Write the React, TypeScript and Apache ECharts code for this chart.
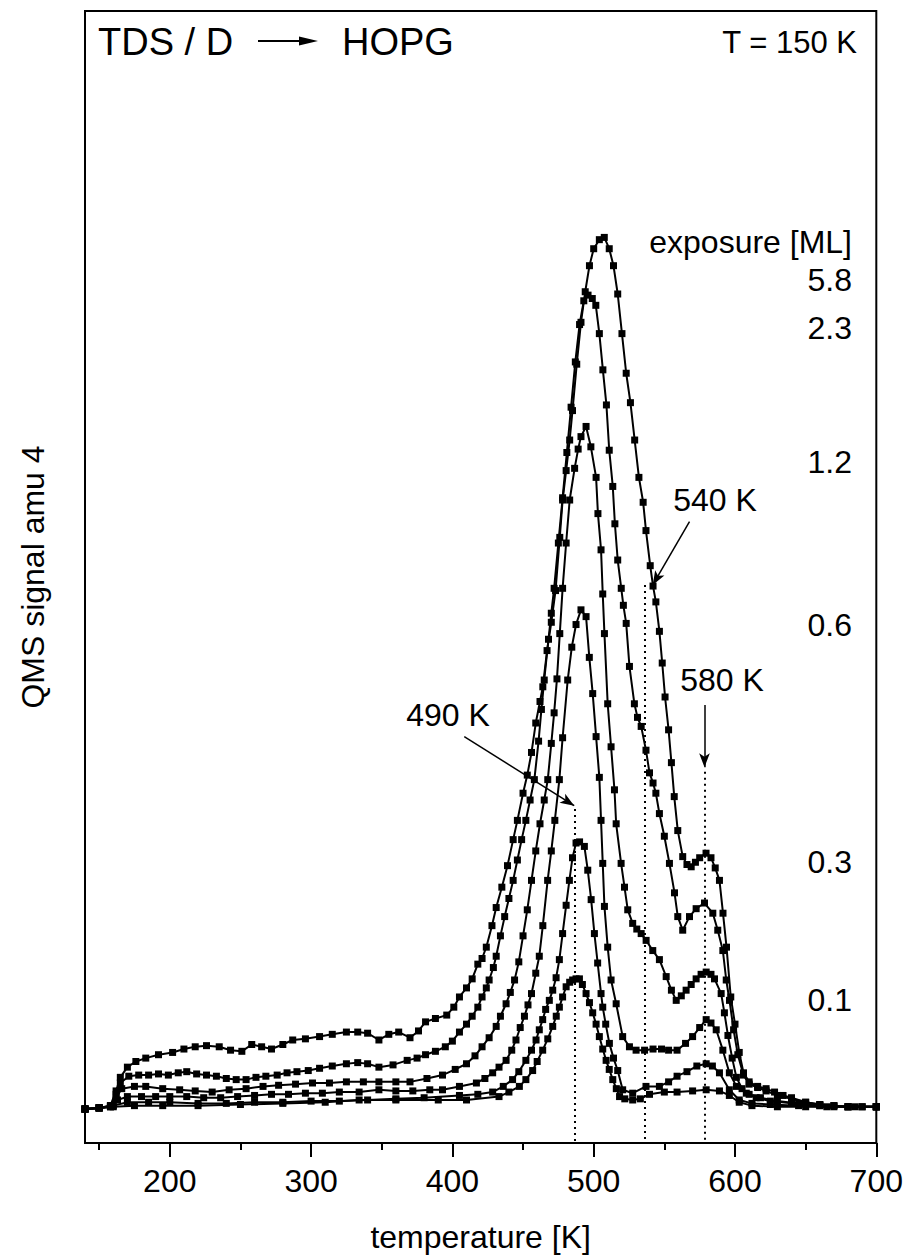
import React, { useEffect, useRef } from "react";
import * as echarts from "echarts";

// ---------- data (temperature K, QMS signal in arbitrary units) ----------
const exposures = ["5.8", "2.3", "1.2", "0.6", "0.3", "0.1"];

const curve58: [number, number][] = [
  [140, 3.0], [150, 3.1], [158, 3.3], [162, 4.6], [165, 5.8], [170, 6.7], [176, 7.2], [183, 7.5], [192, 7.8], [202, 8.0],
  [210, 8.3], [218, 8.5], [226, 8.6], [235, 8.5], [243, 8.2], [251, 8.1], [258, 8.7], [265, 8.5], [272, 8.3], [280, 8.7],
  [287, 9.1], [296, 9.2], [306, 9.4], [315, 9.6], [325, 9.8], [333, 9.8], [340, 9.7], [348, 9.1], [355, 9.6], [362, 9.8],
  [370, 9.3], [376, 9.9], [381, 10.7], [388, 11.0], [396, 11.3], [401, 12.0], [405, 12.9], [410, 13.7], [414, 14.5], [418, 15.8],
  [421, 16.3], [424, 17.3], [428, 19.2], [431, 20.8], [435, 22.6], [439, 24.5], [443, 26.8], [446, 28.5], [450, 30.9], [453, 32.5],
  [456, 34.5], [459, 37.1], [462, 39.0], [464, 40.3], [467, 43.5], [470, 46.0], [473, 48.8], [476, 53.5], [478, 56.8], [480.5, 59.4],
  [483, 62.1], [485, 64.7], [488, 68.8], [491, 72.5], [494, 75.2], [497, 77.5], [500, 79.0], [504, 79.8], [507.5, 80.0], [511, 79.0],
  [514, 77.5], [517, 75.0], [520, 71.5], [523, 68.0], [526, 65.4], [529, 62.1], [532, 58.8], [535, 56.6], [537, 54.1], [540, 51.0],
  [542, 49.2], [544, 47.8], [546.5, 45.2], [548.5, 42.4], [550.5, 39.4], [553, 36.5], [555, 33.6], [557, 30.6], [559.5, 27.6], [563, 25.3],
  [566, 24.6], [569, 24.4], [572, 24.8], [575, 25.2], [579.5, 25.6], [583, 25.2], [586, 24.3], [589, 23.2], [591.5, 20.3], [594, 17.3],
  [597, 12.9], [600, 10.5], [603, 8.0], [606, 6.2], [610, 5.4], [616, 5.0], [622, 4.8], [628, 4.5], [634, 4.2], [640, 4.0],
  [650, 3.6], [660, 3.4], [670, 3.3], [680, 3.2], [690, 3.2], [700, 3.2],
];

const curve23: [number, number][] = [
  [140, 3.0], [150, 3.1], [158, 3.3], [162, 4.3], [165, 5.3], [171, 5.9], [178, 6.0], [185, 6.0], [192, 6.1], [199, 6.0],
  [206, 6.2], [212, 6.3], [219, 6.1], [226, 6.0], [233, 5.9], [240, 5.7], [247, 5.6], [254, 5.6], [261, 5.8], [268, 5.9],
  [276, 6.0], [283, 6.2], [290, 6.3], [298, 6.4], [306, 6.6], [315, 6.8], [325, 7.0], [333, 7.1], [340, 7.0], [348, 6.7],
  [358, 6.9], [368, 7.3], [375, 7.5], [381, 7.8], [388, 8.1], [395, 8.5], [400, 9.0], [405, 9.8], [410, 10.5], [414, 11.2],
  [418, 12.0], [421, 12.9], [424, 13.7], [426, 14.4], [429, 15.5], [431, 16.5], [434, 18.3], [437, 20.0], [440, 21.6], [443, 23.2],
  [446, 25.0], [449, 26.8], [452, 28.5], [455, 30.3], [458, 32.1], [461, 35.5], [463, 38.3], [465, 40.9], [468, 44.5], [470, 46.8],
  [472, 49.0], [475, 53.0], [478, 57.0], [481, 61.0], [484, 65.0], [487, 69.0], [490, 72.3], [493, 74.4], [496, 74.9], [499, 74.6],
  [501.5, 74.0], [504, 71.5], [506.5, 68.3], [509, 65.2], [511, 61.2], [513.5, 58.0], [515, 54.7], [517, 51.5], [519.5, 49.0], [521, 47.5],
  [523, 45.9], [525.3, 42.1], [528.8, 38.8], [531, 37.6], [533.6, 36.8], [537, 34.7], [539.5, 32.7], [542, 31.8], [544, 30.9], [546.5, 29.1],
  [550, 27.1], [553.6, 24.7], [557.2, 22.1], [559.5, 20.0], [563, 18.8], [567.8, 20.0], [572.5, 20.7], [578.4, 21.2], [584.3, 20.3], [587.8, 18.8],
  [591.4, 17.0], [593.8, 14.4], [596.1, 12.6], [599, 10.0], [602, 7.8], [606, 6.0], [610, 5.2], [616, 4.9], [622, 4.6], [630, 4.2],
  [640, 3.9], [650, 3.6], [660, 3.4], [670, 3.3], [680, 3.2], [690, 3.2], [700, 3.2],
];

const curve12: [number, number][] = [
  [140, 3.0], [150, 3.1], [158, 3.2], [162, 4.0], [166, 4.8], [175, 5.0], [183, 5.0], [195, 4.8], [207, 4.7], [218, 4.6],
  [230, 4.5], [242, 4.7], [254, 4.8], [266, 5.0], [277, 5.1], [289, 5.2], [301, 5.3], [313, 5.3], [325, 5.4], [337, 5.4],
  [348, 5.4], [360, 5.4], [370, 5.4], [382, 5.7], [393, 6.0], [402, 6.5], [410, 7.0], [416, 7.7], [421, 8.5], [426, 9.3],
  [431, 10.3], [434, 11.2], [438, 12.3], [441, 13.3], [444, 14.4], [447, 16.0], [450, 18.3], [453, 20.6], [456, 23.2], [459, 25.8],
  [462, 28.2], [465, 30.3], [467.5, 32.1], [470, 35.3], [472, 38.0], [474, 41.0], [476, 45.0], [478, 49.0], [480.5, 53.0], [483, 56.8],
  [486.5, 59.6], [489, 61.3], [491, 62.4], [494.6, 63.3], [498, 61.5], [501.7, 58.8], [503, 55.6], [505.2, 52.4], [506.4, 48.5], [507.6, 45.0],
  [509.9, 38.8], [512.3, 35.0], [514.7, 31.2], [515.9, 28.2], [519.4, 24.7], [521.8, 22.6], [524.1, 20.6], [527.6, 19.4], [530.5, 18.9], [533.6, 18.5],
  [537.1, 17.9], [541.8, 17.0], [546.5, 16.2], [551.3, 14.7], [555, 13.5], [558.4, 12.6], [562, 13.0], [565.4, 13.5], [569, 14.0], [572.5, 14.5],
  [576, 14.9], [579.6, 15.1], [583, 14.9], [585.5, 14.5], [590.2, 13.2], [592.5, 11.5], [595, 9.5], [598, 7.5], [601, 5.8], [605, 4.8],
  [610, 4.3], [618, 4.0], [630, 3.7], [645, 3.5], [660, 3.3], [680, 3.2], [700, 3.2],
];

const curve06: [number, number][] = [
  [140, 3.0], [150, 3.1], [158, 3.2], [163, 3.8], [170, 4.1], [180, 4.1], [190, 4.1], [200, 4.1], [212, 4.1], [224, 4.0],
  [236, 4.0], [248, 4.1], [260, 4.2], [272, 4.3], [284, 4.3], [296, 4.4], [308, 4.4], [320, 4.5], [334, 4.5], [348, 4.7],
  [360, 4.6], [372, 4.6], [384, 4.7], [393, 4.7], [405, 5.0], [417, 5.3], [423, 5.7], [428.5, 6.2], [433, 6.7], [438, 7.3],
  [442, 8.2], [445, 9.1], [448, 10.2], [451, 11.2], [453.5, 12.2], [456, 13.2], [459, 15.0], [461.5, 16.5], [464, 19.2], [467.4, 23.2],
  [470, 25.8], [472.5, 28.5], [475.7, 32.1], [478, 35.8], [481.6, 40.9], [484.5, 43.8], [487.5, 45.8], [491, 47.1], [494.6, 46.5], [496.9, 42.9],
  [499.3, 39.7], [501.7, 35.9], [504, 32.3], [505.2, 28.5], [506.4, 24.7], [507.6, 20.9], [509.9, 17.3], [512.3, 14.4], [515.9, 12.3], [520.5, 9.4],
  [525.3, 8.5], [530, 8.2], [536, 8.2], [542, 8.3], [548, 8.3], [553, 8.2], [559, 8.2], [565, 8.8], [570, 9.4], [575, 10.2],
  [579.6, 10.9], [583, 10.6], [586.7, 10.0], [591.4, 8.2], [596, 6.2], [601, 5.0], [608, 4.4], [615, 4.0], [625, 3.7], [640, 3.5],
  [660, 3.3], [680, 3.2], [700, 3.2],
];

const curve03: [number, number][] = [
  [140, 3.0], [150, 3.1], [160, 3.3], [170, 3.6], [185, 3.6], [200, 3.6], [220, 3.5], [240, 3.5], [260, 3.6], [280, 3.6],
  [300, 3.7], [320, 3.7], [340, 3.8], [360, 3.9], [380, 4.0], [405, 4.2], [418, 4.3], [428.5, 4.5], [436, 5.0], [442.6, 5.6],
  [447, 6.3], [452, 7.3], [456, 8.2], [459.2, 9.1], [461.5, 10.0], [463.9, 10.9], [466, 11.8], [468.6, 12.6], [471, 13.5], [473.4, 14.6],
  [475.7, 16.2], [478, 18.5], [480.5, 21.0], [482.8, 23.2], [485, 25.2], [487.5, 26.5], [490, 26.6], [493.4, 26.2], [495.8, 24.1], [498.2, 21.5],
  [500.5, 18.5], [502.8, 15.9], [505.2, 13.2], [506.4, 12.0], [508.5, 10.5], [511.1, 8.8], [514, 7.5], [517, 6.4], [520.5, 4.7], [527.6, 4.4],
  [537, 5.0], [546.5, 5.0], [553, 5.4], [559, 5.9], [566, 6.3], [573, 6.8], [579.6, 7.0], [584, 6.8], [589, 6.2], [596, 4.7],
  [603, 3.8], [612, 3.5], [625, 3.4], [645, 3.3], [665, 3.2], [685, 3.2], [700, 3.2],
];

const curve01: [number, number][] = [
  [140, 3.0], [150, 3.1], [160, 3.2], [175, 3.3], [195, 3.3], [220, 3.3], [250, 3.4], [280, 3.5], [310, 3.6], [334, 3.8],
  [360, 3.8], [390, 3.8], [410, 3.8], [433, 4.1], [440, 4.5], [447.4, 5.0], [452, 5.6], [456.8, 6.4], [460, 7.2], [463.9, 8.2],
  [467.5, 9.2], [471, 10.3], [473.5, 11.2], [475.7, 12.0], [478, 12.9], [480.5, 13.8], [483, 14.2], [485.1, 14.4], [487.5, 14.5], [489.9, 14.5],
  [492, 14.0], [494.6, 13.2], [497, 12.4], [499.3, 11.5], [501.7, 10.5], [504, 9.4], [506.4, 8.3], [508.8, 7.3], [511, 6.5], [513.5, 5.6],
  [516, 4.8], [518.3, 4.1], [522, 3.9], [527.6, 3.8], [533, 3.9], [539.5, 4.3], [550, 4.5], [559, 4.5], [570, 4.6], [579.6, 4.7],
  [589, 4.6], [596, 4.2], [603, 3.6], [612, 3.3], [630, 3.2], [650, 3.2], [670, 3.2], [700, 3.2],
];

const curves = [curve58, curve23, curve12, curve06, curve03, curve01];

// axis ticks
const majorTicks = [200, 300, 400, 500, 600, 700];
const minorTicks = [150, 250, 350, 450, 550, 650];

// peak markers: temperature, top of dotted line, arrow start/end (T, signal)
const peakLabels = ["490 K", "540 K", "580 K"];
const peakTemps = [486.8, 535.9, 578.4];
const peakLineTops = [29.5, 49.3, 32.8];
const arrowStarts: [number, number][] = [[408.4, 35.9], [567.8, 54.9], [578.4, 38.7]];
const arrowEnds: [number, number][] = [[486.2, 29.8], [541.8, 49.3], [578.4, 33.2]];

const FONT = '"Liberation Sans", Arial, Helvetica, sans-serif';

export default function App() {
  const ref = useRef<HTMLDivElement>(null);

  useEffect(() => {
    if (!ref.current) return;
    const chart = echarts.init(ref.current, undefined, { renderer: "svg" });

    const markData: any[] = [];
    peakTemps.forEach((t, i) => {
      markData.push([
        { coord: [t, peakLineTops[i]], symbol: "none", lineStyle: { type: [2, 4], width: 2, color: "#000" } },
        { coord: [t, 0], symbol: "none" },
      ]);
      markData.push([
        { coord: arrowStarts[i], symbol: "none", lineStyle: { type: "solid", width: 1.5, color: "#000" } },
        { coord: arrowEnds[i], symbol: "arrow", symbolSize: [8, 14] },
      ]);
    });

    const series: any[] = curves.map((c, i) => ({
      type: "line",
      name: exposures[i],
      data: c,
      symbol: "rect",
      symbolSize: 7,
      showSymbol: true,
      showAllSymbol: true,
      lineStyle: { color: "#000", width: 2 },
      itemStyle: { color: "#000" },
      silent: true,
      z: 3,
      ...(i === 0
        ? {
            markLine: {
              silent: true,
              animation: false,
              label: { show: false },
              symbol: ["none", "none"],
              data: markData,
            },
          }
        : {}),
    }));

    const txt = (text: string, x: number, y: number, size: number, align: string) => ({
      type: "text",
      x,
      y,
      silent: true,
      style: {
        text,
        fill: "#000",
        font: `${size}px ${FONT}`,
        align,
        verticalAlign: "middle",
        textAlign: align,
        textVerticalAlign: "middle",
      },
    });

    const rightLabelX = 852;
    const expoY = [280, 328, 462, 625, 862, 1000];
    const peakLabelPos: [number, number][] = [[448, 715], [715, 500], [722, 680]];

    const graphic: any[] = [
      txt("TDS / D", 98, 42, 38, "left"),
      { type: "line", silent: true, shape: { x1: 258, y1: 41, x2: 302, y2: 41 }, style: { stroke: "#000", lineWidth: 2 } },
      { type: "polygon", silent: true, shape: { points: [[299, 36.5], [318, 41], [299, 45.5]] }, style: { fill: "#000" } },
      txt("HOPG", 342, 42, 38, "left"),
      txt("T = 150 K", 857, 42, 31, "right"),
      txt("exposure [ML]", rightLabelX, 242, 32, "right"),
      ...exposures.map((e, i) => txt(e, rightLabelX, expoY[i], 32, "right")),
      ...peakLabels.map((l, i) => txt(l, peakLabelPos[i][0], peakLabelPos[i][1], 32, "center")),
    ];

    chart.setOption({
      animation: false,
      backgroundColor: "#fff",
      textStyle: { fontFamily: FONT },
      grid: {
        left: 85,
        top: 11,
        width: 792,
        height: 1132,
        show: true,
        borderColor: "#000",
        borderWidth: 2,
        backgroundColor: "transparent",
      },
      xAxis: [
        {
          type: "value",
          min: 140,
          max: 700,
          position: "bottom",
          axisLine: { show: true, onZero: false, lineStyle: { color: "#000", width: 2 } },
          axisTick: { show: true, inside: false, length: 14, customValues: majorTicks, lineStyle: { color: "#000", width: 2 } },
          axisLabel: { customValues: majorTicks, fontSize: 32, color: "#000", margin: 22, fontFamily: FONT },
          splitLine: { show: false },
          name: "temperature [K]",
          nameLocation: "middle",
          nameGap: 78,
          nameTextStyle: { fontSize: 32, color: "#000", fontFamily: FONT },
        },
        {
          type: "value",
          min: 140,
          max: 700,
          position: "bottom",
          axisLine: { show: false },
          axisTick: { show: true, inside: false, length: 7, customValues: minorTicks, lineStyle: { color: "#000", width: 2 } },
          axisLabel: { show: false },
          splitLine: { show: false },
        },
      ],
      yAxis: {
        type: "value",
        min: 0,
        max: 100,
        axisLine: { show: true, onZero: false, lineStyle: { color: "#000", width: 2 } },
        axisTick: { show: false },
        axisLabel: { show: false },
        splitLine: { show: false },
        name: "QMS signal amu 4",
        nameLocation: "middle",
        nameGap: 36,
        nameTextStyle: { fontSize: 32, color: "#000", fontFamily: FONT },
      },
      series,
      graphic,
    });

    return () => chart.dispose();
  }, []);

  return (
    <div
      ref={ref}
      style={{ position: "absolute", left: 0, top: 0, width: 906, height: 1258, background: "#fff" }}
    />
  );
}
